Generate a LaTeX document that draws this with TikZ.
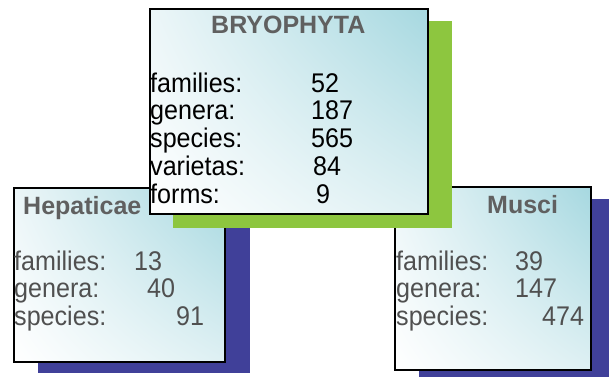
\documentclass[tikz,border=0pt]{standalone}
\usepackage{fontspec}
\setmainfont{Liberation Sans}
\newfontfamily\bodyfont[FakeStretch=0.93]{Liberation Sans}
\usetikzlibrary{shadings}
\definecolor{leaf}{RGB}{141,198,63}
\definecolor{navy}{RGB}{64,64,153}
\definecolor{skyA}{RGB}{166,216,224}
\definecolor{skyB}{RGB}{236,246,248}
\definecolor{skyC}{RGB}{222,240,243}
\definecolor{titlegray}{RGB}{96,96,96}
\definecolor{bodygray}{RGB}{80,80,80}
\begin{document}
\begin{tikzpicture}[x=1pt,y=-1pt,
  panel/.style={draw=black,line width=1.6pt,anchor=north west,inner sep=0pt,
    upper left=skyB,upper right=skyA,lower left=white,lower right=skyC},
  shade/.style={anchor=north west,inner sep=0pt,draw=none},
  ttl/.style={anchor=base west,inner sep=0pt,font=\fontsize{25}{28}\selectfont\bfseries,text=titlegray},
  txt/.style={anchor=base west,inner sep=0pt,font=\bodyfont\fontsize{27}{28}\selectfont},
  gtxt/.style={txt,text=bodygray}]
\useasboundingbox (0,0) rectangle (609,376);
\begin{scope}
\clip (0,0) rectangle (609,376);
% Hepaticae
\node[shade,fill=navy,minimum width=212pt,minimum height=174pt] (hshadow) at (38,199) {};
\node[panel,minimum width=211pt,minimum height=174pt] (hep) at (13,187) {};
\node[ttl] (ht) at (23,214) {Hepaticae};
\node[gtxt] (h1) at (14,270) {families:};
\node[gtxt] (h2) at (14,297) {genera:};
\node[gtxt] (h3) at (14,325) {species:};
\node[gtxt] (h1n) at (134,270) {13};
\node[gtxt] (h2n) at (147,297) {40};
\node[gtxt] (h3n) at (176,325) {91};
% Musci
\node[shade,fill=navy,minimum width=200pt,minimum height=185pt] (mshadow) at (419,199) {};
\node[panel,minimum width=196pt,minimum height=183pt] (mus) at (394,186) {};
\node[ttl] (mt) at (487,213) {Musci};
\node[gtxt] (m1) at (396,270) {families:};
\node[gtxt] (m2) at (396,297) {genera:};
\node[gtxt] (m3) at (396,325) {species:};
\node[gtxt] (m1n) at (515,270) {39};
\node[gtxt] (m2n) at (515,297) {147};
\node[gtxt] (m3n) at (542,325) {474};
% Bryophyta
\node[shade,fill=leaf,minimum width=279pt,minimum height=207pt] (bshadow) at (173,21) {};
\node[panel,minimum width=278pt,minimum height=205pt] (bry) at (149,8) {};
\node[ttl] (bt) at (211,33) {BRYOPHYTA};
\node[txt] (b1) at (150,92) {families:};
\node[txt] (b2) at (150,119) {genera:};
\node[txt] (b3) at (150,147) {species:};
\node[txt] (b4) at (150,175) {varietas:};
\node[txt] (b5) at (150,203) {forms:};
\node[txt] (b1n) at (311,92) {52};
\node[txt] (b2n) at (311,119) {187};
\node[txt] (b3n) at (311,147) {565};
\node[txt] (b4n) at (313,175) {84};
\node[txt] (b5n) at (316,203) {9};
\end{scope}
\end{tikzpicture}
\end{document}
